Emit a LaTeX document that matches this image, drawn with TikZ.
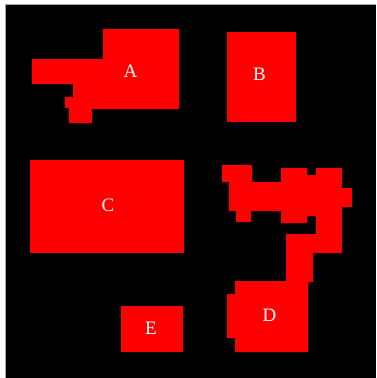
\documentclass[tikz,border=0pt]{standalone}
\usepackage{fontspec}
\setmainfont{Liberation Serif}
\usepackage{tikz}
\usetikzlibrary{positioning}

\tikzset{
  region/.style={fill=red},
  regionlabel/.style={text=white,font=\fontsize{19}{19}\selectfont,inner sep=0pt}
}

\begin{document}
\begin{tikzpicture}[x=1pt,y=-1pt]
  \useasboundingbox (0,0) rectangle (376,378);
  % ---------------- background ----------------
  \fill[white] (0,0) rectangle (376,378);
  \fill[black] (5,4) rectangle (376,378);
  \draw[gray!70,line width=1pt] (5.5,378) -- (5.5,4.5) -- (376,4.5);
  % ---------------- region A ----------------
  \fill[region] (103,29) -- (179,29) -- (179,109) -- (92,109) -- (92,123) -- (69,123)
    -- (69,108) -- (65,108) -- (65,97) -- (73,97) -- (73,84) -- (32,84) -- (32,59)
    -- (103,59) -- cycle;
  \node[regionlabel] (lblA) at (130.5,71.5) {A};
  % ---------------- region B ----------------
  \fill[region] (226.5,32) rectangle (296,122);
  \node[regionlabel] (lblB) at (259.5,74.5) {B};
  % ---------------- region C ----------------
  \fill[region] (30,160) rectangle (184,253);
  \node[regionlabel] (lblC) at (108,205.5) {C};
  % ---------------- region D ----------------
  \fill[region] (222,165) -- (252,165) -- (252,182) -- (281,182) -- (281,168) -- (307,168)
    -- (307,175) -- (316,175) -- (316,168) -- (342,168) -- (342,188) -- (352,188)
    -- (352,207) -- (342,207) -- (342,253) -- (313,253) -- (313,282) -- (308,282)
    -- (308,352) -- (235,352) -- (235,338) -- (227,338) -- (227,294) -- (235,294)
    -- (235,281) -- (286,281) -- (286,234) -- (316,234) -- (316,216) -- (307,216)
    -- (307,223) -- (281,223) -- (281,211) -- (251,211)
    -- (251,222) -- (236,222) -- (236,211) -- (229,211) -- (229,182) -- (222,182) -- cycle;
  \node[regionlabel] (lblD) at (269.5,315) {D};
  % ---------------- region E ----------------
  \fill[region] (121,306) rectangle (183,352);
  \node[regionlabel] (lblE) at (151,328.5) {E};
\end{tikzpicture}
\end{document}
